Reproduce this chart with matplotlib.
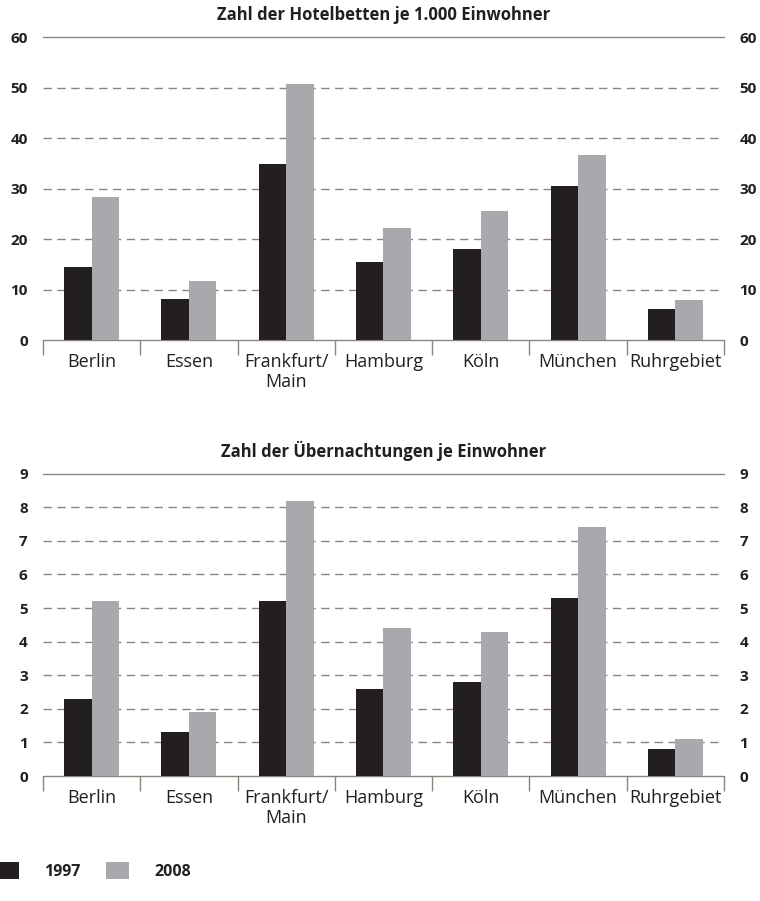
import matplotlib
matplotlib.use("Agg")
import matplotlib.pyplot as plt
import numpy as np

categories = ["Berlin", "Essen", "Frankfurt/\nMain", "Hamburg", "Köln", "München", "Ruhrgebiet"]
years = ["1997", "2008"]
betten_1997 = [14.5, 8.1, 34.9, 15.4, 18.0, 30.5, 6.1]
betten_2008 = [28.3, 11.7, 50.7, 22.2, 25.5, 36.6, 7.9]
uebern_1997 = [2.3, 1.3, 5.2, 2.6, 2.8, 5.3, 0.8]
uebern_2008 = [5.2, 1.9, 8.2, 4.4, 4.3, 7.4, 1.1]
title_top = "Zahl der Hotelbetten je 1.000 Einwohner"
title_bottom = "Zahl der Übernachtungen je Einwohner"
yticks_top = [0, 10, 20, 30, 40, 50, 60]
yticks_bottom = [0, 1, 2, 3, 4, 5, 6, 7, 8, 9]

plt.rcParams['font.family'] = ['Open Sans', 'DejaVu Sans']
TXT = "#231f20"
C1 = "#231f20"
C2 = "#a7a9ac"
GRID = "#8c857b"

fig = plt.figure(figsize=(7.6, 9.01), dpi=100)

def panel(rect, v1, v2, yticks, title):
    ax = fig.add_axes(rect)
    n = len(categories)
    x = np.arange(n)
    w = 0.283
    ax.bar(x - w / 2, v1, w, color=C1, zorder=3, label=years[0])
    ax.bar(x + w / 2, v2, w, color=C2, zorder=3, label=years[1])
    ax.set_xlim(-0.5, n - 0.5)
    ax.set_ylim(0, yticks[-1])
    ax.set_yticks(yticks)
    for t in yticks[1:-1]:
        ax.axhline(t, color=GRID, lw=1.0, ls=(0, (6, 4)), zorder=1)
    for s in ["left", "right"]:
        ax.spines[s].set_visible(False)
    ax.spines["top"].set_color(GRID)
    ax.spines["top"].set_linewidth(1.0)
    ax.spines["bottom"].set_color(GRID)
    ax.spines["bottom"].set_linewidth(1.0)
    ax.tick_params(axis="y", length=0, labelleft=True, labelright=True, pad=11,
                   labelsize=11, labelcolor=TXT)
    for lab in ax.get_yticklabels():
        lab.set_fontweight("bold")
    ax.set_xticks(x)
    ax.set_xticklabels(categories, fontsize=13, color=TXT, linespacing=1.15)
    ax.tick_params(axis="x", which="major", length=0, pad=9)
    ax.set_xticks(np.arange(-0.5, n, 1.0), minor=True)
    ax.tick_params(axis="x", which="minor", length=11, width=1.0, color=GRID, direction="out")
    ax.set_title(title, fontsize=12, fontweight="bold", color=TXT, pad=12)
    return ax

ax1 = panel([0.0566, 0.6226, 0.896, 0.3363], betten_1997, betten_2008, yticks_top, title_top)
ax2 = panel([0.0566, 0.1387, 0.896, 0.3356], uebern_1997, uebern_2008, yticks_bottom, title_bottom)

h, l = ax2.get_legend_handles_labels()
leg = fig.legend(h, l, loc="center left", bbox_to_anchor=(-0.006, 0.0333), ncol=2, frameon=False,
                 fontsize=11.5, handlelength=1.45, handleheight=1.2, handletextpad=1.6,
                 columnspacing=1.6, borderpad=0, borderaxespad=0)
for t in leg.get_texts():
    t.set_fontweight("bold")
    t.set_color(TXT)

fig.savefig("out.png", dpi=100)
